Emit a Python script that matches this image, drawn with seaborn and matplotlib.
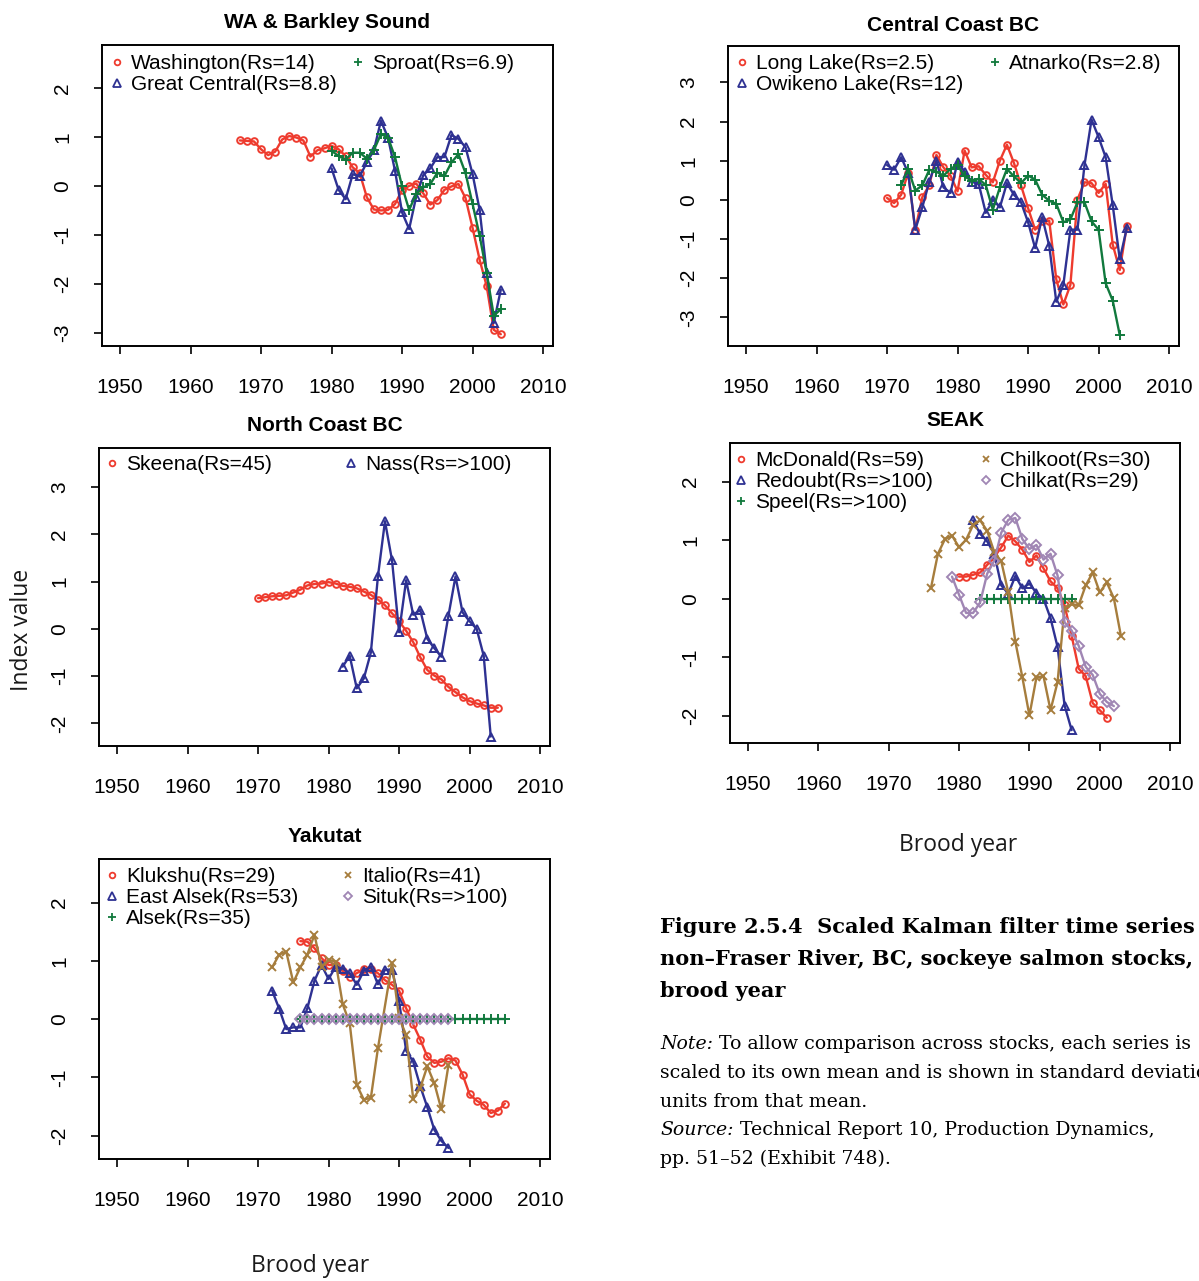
import matplotlib
matplotlib.use('Agg')
import matplotlib.pyplot as plt
from matplotlib.lines import Line2D
from matplotlib.legend import Legend
import pandas as pd
import seaborn as sns

# ========== DATI ==========
# WA & Barkley Sound
wash_years = list(range(1967, 2005))
wash_vals = [0.93, 0.92, 0.91, 0.75, 0.63, 0.70, 0.95, 1.02, 0.99, 0.93, 0.60, 0.73, 0.77,
             0.82, 0.75, 0.61, 0.38, 0.26, -0.23, -0.48, -0.50, -0.49, -0.37, -0.08, 0.00,
             0.05, -0.15, -0.38, -0.29, -0.08, -0.01, 0.04, -0.25, -0.86, -1.51, -2.05,
             -2.94, -3.03]
gc_years = list(range(1980, 2005))
gc_vals = [0.36, -0.08, -0.27, 0.24, 0.20, 0.48, 0.73, 1.33, 0.99, 0.31, -0.54, -0.88,
           -0.22, 0.22, 0.36, 0.59, 0.59, 1.04, 0.96, 0.79, 0.24, -0.49, -1.78, -2.80, -2.12]
sproat_years = list(range(1980, 2005))
sproat_vals = [0.72, 0.61, 0.54, 0.68, 0.68, 0.56, 0.73, 1.06, 0.99, 0.59, -0.01, -0.49,
               -0.16, -0.03, 0.04, 0.27, 0.20, 0.48, 0.65, 0.26, -0.37, -1.02, -1.78,
               -2.65, -2.52]

# Central Coast BC
long_years = list(range(1970, 2005))
long_vals = [0.05, -0.08, 0.13, 0.69, -0.76, 0.07, 0.38, 1.15, 0.83, 0.62, 0.22, 1.26,
             0.83, 0.86, 0.64, 0.45, 1.00, 1.41, 0.94, 0.37, -0.21, -0.76, -0.55, -0.53,
             -2.03, -2.67, -2.17, 0.01, 0.45, 0.43, 0.18, 0.41, -1.14, -1.79, -0.66]
owik_years = list(range(1970, 2005))
owik_vals = [0.89, 0.77, 1.09, 0.69, -0.76, -0.19, 0.47, 1.00, 0.32, 0.18, 0.98, 0.72,
             0.47, 0.41, -0.33, 0.01, -0.19, 0.43, 0.13, -0.06, -0.57, -1.23, -0.44, -1.17,
             -2.60, -2.17, -0.76, -0.76, 0.89, 2.05, 1.60, 1.09, -0.13, -1.52, -0.72]
atn_years = list(range(1972, 2004))
atn_vals = [0.37, 0.79, 0.24, 0.37, 0.77, 0.72, 0.62, 0.79, 0.89, 0.60, 0.49, 0.54, 0.38,
            -0.25, 0.32, 0.79, 0.60, 0.43, 0.62, 0.52, 0.13, -0.02, -0.10, -0.57, -0.50,
            -0.06, -0.06, -0.55, -0.76, -2.13, -2.57, -3.45]

# North Coast BC
skeena_years = list(range(1970, 2005))
skeena_vals = [0.65, 0.67, 0.69, 0.70, 0.71, 0.77, 0.83, 0.92, 0.95, 0.96, 0.99, 0.96,
               0.91, 0.89, 0.86, 0.79, 0.72, 0.62, 0.50, 0.33, 0.16, -0.04, -0.28, -0.60,
               -0.87, -0.99, -1.07, -1.23, -1.34, -1.45, -1.53, -1.58, -1.62, -1.67, -1.67]
nass_years = list(range(1982, 2004))
nass_vals = [-0.80, -0.57, -1.26, -1.05, -0.50, 1.11, 2.28, 1.45, -0.07, 1.03, 0.30, 0.40,
             -0.21, -0.41, -0.59, 0.28, 1.11, 0.35, 0.16, 0.00, -0.57, -2.28]

# SEAK
mcd_years = list(range(1980, 2002))
mcd_vals = [0.38, 0.38, 0.41, 0.45, 0.58, 0.71, 0.88, 1.08, 0.98, 0.84, 0.63, 0.74, 0.52,
            0.30, 0.18, -0.11, -0.63, -1.19, -1.32, -1.78, -1.90, -2.03]
redoubt_years = list(range(1982, 1997))
redoubt_vals = [1.34, 1.11, 0.98, 0.77, 0.23, 0.09, 0.39, 0.18, 0.26, 0.10, 0.00, -0.33,
                -0.82, -1.82, -2.24]
speel_years = list(range(1983, 1997))
speel_vals = [0.0] * len(speel_years)
chilkoot_years = list(range(1976, 2004))
chilkoot_vals = [0.18, 0.77, 1.02, 1.08, 0.88, 1.01, 1.26, 1.34, 1.16, 0.80, 0.64, 0.11,
                 -0.73, -1.34, -1.99, -1.34, -1.32, -1.90, -1.42, -0.15, -0.09, -0.11, 0.23,
                 0.45, 0.11, 0.28, 0.01, -0.63]
chilkat_years = list(range(1979, 2003))
chilkat_vals = [0.38, 0.07, -0.24, -0.24, -0.06, 0.43, 0.65, 1.13, 1.35, 1.38, 1.02, 0.85,
                0.92, 0.67, 0.77, 0.40, -0.40, -0.54, -0.80, -1.16, -1.30, -1.62, -1.76, -1.83]

# Yakutat
kluk_years = list(range(1976, 2006))
kluk_vals = [1.34, 1.33, 1.22, 1.05, 0.93, 0.93, 0.83, 0.73, 0.79, 0.86, 0.86, 0.79, 0.67,
             0.59, 0.49, 0.19, -0.09, -0.35, -0.64, -0.75, -0.73, -0.67, -0.71, -0.95,
             -1.29, -1.40, -1.47, -1.61, -1.57, -1.45]
ealsek_years = list(range(1972, 1998))
ealsek_vals = [0.49, 0.18, -0.17, -0.14, -0.14, 0.19, 0.66, 0.93, 0.69, 0.90, 0.87, 0.79,
               0.59, 0.83, 0.90, 0.60, 0.85, 0.85, 0.31, -0.54, -0.73, -1.15, -1.51, -1.90,
               -2.09, -2.21]
alsek_years = list(range(1976, 2006))
alsek_vals = [0.0] * len(alsek_years)
italio_years = list(range(1972, 1988)) + list(range(1989, 1998))
italio_vals = [0.89, 1.11, 1.16, 0.63, 0.89, 1.11, 1.45, 0.90, 1.02, 0.99, 0.26, -0.07,
               -1.13, -1.38, -1.35, -0.50, 0.96, 0.02, -0.27, -1.37, -1.18, -0.81, -1.10,
               -1.55, -0.79]
situk_years = list(range(1976, 1998))
situk_vals = [0.0] * len(situk_years)

# ========== STILE ==========
RED = '#EE3B2E'
BLUE = '#2E3192'
GREEN = '#11793D'
BROWN = '#A67D3D'
PURPLE = '#A086B4'

# simbolo R -> (marker matplotlib, dimensione)
SYM = {'circle': ('o', 4.8), 'tri': ('^', 6.0), 'plus': ('+', 7.5), 'x': ('x', 5.5), 'diam': ('D', 4.6)}

W, H = 1199, 1281
sns.set_style('white')
plt.rcParams['font.family'] = ['Liberation Sans', 'DejaVu Sans']
plt.rcParams['axes.unicode_minus'] = False
plt.rcParams['text.color'] = 'black'

fig = plt.figure(figsize=(W / 100, H / 100), dpi=100)


def add_ax(left, top, right, bottom):
    return fig.add_axes([left / W, 1 - bottom / H, (right - left) / W, (bottom - top) / H])


def draw(ax, years, vals, color, sym, z=2):
    m, ms = SYM[sym]
    d = pd.DataFrame({'year': years, 'value': vals})
    sns.lineplot(data=d, x='year', y='value', ax=ax, color=color, lw=1.7, marker=m, ms=ms,
                 mfc='none', mec=color, mew=1.4, legend=False, errorbar=None, zorder=z)


def setup(ax, title, ylim, yticks, tpad=12.5):
    ax.set_xlim(1947.45, 2011.4)
    ax.set_ylim(*ylim)
    ax.set_xticks(range(1950, 2011, 10))
    ax.set_yticks(yticks)
    ax.set_xlabel('')
    ax.set_ylabel('')
    ax.set_title(title, fontsize=15, fontweight='bold', pad=tpad, color='black')
    for s in ax.spines.values():
        s.set_visible(True)
        s.set_linewidth(1.4)
        s.set_color('black')
    ax.tick_params(direction='out', length=5.5, width=1.2, labelsize=15, pad=16,
                   bottom=True, left=True, colors='black')
    ax.tick_params(axis='x', pad=17.5)
    for lab in ax.get_yticklabels():
        lab.set_rotation(90)
        lab.set_va('center')


def legend_col(ax, entries, x_px, y_px):
    # una colonna della legenda R, posizionata in pixel dall'angolo in alto a sinistra
    pos = ax.get_position()
    w, h = pos.width * W, pos.height * H
    handles = [Line2D([], [], ls='none', marker=SYM[s][0], ms=SYM[s][1] * 0.85, mfc='none',
                      mec=c, mew=1.3, color=c) for _, c, s in entries]
    labels = [t for t, _, _ in entries]
    leg = Legend(ax, handles, labels, loc='upper left', bbox_to_anchor=(x_px / w, 1 - y_px / h),
                 frameon=False, borderpad=0, borderaxespad=0, handlelength=0.6,
                 handletextpad=0.35, labelspacing=0.1, fontsize=15, labelcolor='black')
    ax.add_artist(leg)


# ---- Panel 1: WA & Barkley Sound ----
ax1 = add_ax(102, 45, 553, 346)
draw(ax1, wash_years, wash_vals, RED, 'circle')
draw(ax1, gc_years, gc_vals, BLUE, 'tri')
draw(ax1, sproat_years, sproat_vals, GREEN, 'plus')
setup(ax1, 'WA & Barkley Sound', (-3.27, 2.88), range(-3, 3))
legend_col(ax1, [('Washington(Rs=14)', RED, 'circle'), ('Great Central(Rs=8.8)', BLUE, 'tri')], 9, 9)
legend_col(ax1, [('Sproat(Rs=6.9)', GREEN, 'plus')], 250, 9)

# ---- Panel 2: Central Coast BC ----
ax2 = add_ax(728, 46, 1179, 346)
draw(ax2, long_years, long_vals, RED, 'circle')
draw(ax2, owik_years, owik_vals, BLUE, 'tri')
draw(ax2, atn_years, atn_vals, GREEN, 'plus')
setup(ax2, 'Central Coast BC', (-3.73, 3.93), range(-3, 4), tpad=10.5)
legend_col(ax2, [('Long Lake(Rs=2.5)', RED, 'circle'), ('Owikeno Lake(Rs=12)', BLUE, 'tri')], 8, 8)
legend_col(ax2, [('Atnarko(Rs=2.8)', GREEN, 'plus')], 261, 8)

# ---- Panel 3: North Coast BC ----
ax3 = add_ax(99, 448, 550, 746)
draw(ax3, skeena_years, skeena_vals, RED, 'circle')
draw(ax3, nass_years, nass_vals, BLUE, 'tri')
setup(ax3, 'North Coast BC', (-2.48, 3.83), range(-2, 4))
legend_col(ax3, [('Skeena(Rs=45)', RED, 'circle')], 7, 7)
legend_col(ax3, [('Nass(Rs=>100)', BLUE, 'tri')], 246, 7)

# ---- Panel 4: SEAK ----
ax4 = add_ax(730, 443, 1180, 743)
draw(ax4, mcd_years, mcd_vals, RED, 'circle')
draw(ax4, redoubt_years, redoubt_vals, BLUE, 'tri')
draw(ax4, speel_years, speel_vals, GREEN, 'plus')
draw(ax4, chilkoot_years, chilkoot_vals, BROWN, 'x')
draw(ax4, chilkat_years, chilkat_vals, PURPLE, 'diam')
setup(ax4, 'SEAK', (-2.46, 2.66), range(-2, 3))
legend_col(ax4, [('McDonald(Rs=59)', RED, 'circle'), ('Redoubt(Rs=>100)', BLUE, 'tri'),
                 ('Speel(Rs=>100)', GREEN, 'plus')], 5, 8)
legend_col(ax4, [('Chilkoot(Rs=30)', BROWN, 'x'), ('Chilkat(Rs=29)', PURPLE, 'diam')], 250, 8)

# ---- Panel 5: Yakutat ----
ax5 = add_ax(99, 859, 550, 1159)
draw(ax5, kluk_years, kluk_vals, RED, 'circle')
draw(ax5, ealsek_years, ealsek_vals, BLUE, 'tri')
draw(ax5, alsek_years, alsek_vals, GREEN, 'plus')
draw(ax5, italio_years, italio_vals, BROWN, 'x')
draw(ax5, situk_years, situk_vals, PURPLE, 'diam')
setup(ax5, 'Yakutat', (-2.40, 2.75), range(-2, 3))
legend_col(ax5, [('Klukshu(Rs=29)', RED, 'circle'), ('East Alsek(Rs=53)', BLUE, 'tri'),
                 ('Alsek(Rs=35)', GREEN, 'plus')], 7, 8)
legend_col(ax5, [('Italio(Rs=41)', BROWN, 'x'), ('Situk(Rs=>100)', PURPLE, 'diam')], 243, 8)

# ---- etichette comuni ----
lab_font = dict(family='Open Sans', fontsize=16.5, color='#1a1a1a')
fig.text(22 / W, 1 - 630 / H, 'Index value', rotation=90, ha='center', va='center', **lab_font)
fig.text(958 / W, 1 - 845 / H, 'Brood year', ha='center', va='center', **lab_font)
fig.text(310 / W, 1 - 1266 / H, 'Brood year', ha='center', va='center', **lab_font)

# ---- didascalia (tagliata al bordo destro come nell'originale) ----
serif = 'DejaVu Serif'
cap_lines = ['Figure 2.5.4  Scaled Kalman filter time series for',
             'non\u2013Fraser River, BC, sockeye salmon stocks, by',
             'brood year']
for i, line in enumerate(cap_lines):
    fig.text(660 / W, 1 - (927 + 32 * i) / H, line, family=serif, fontweight='bold',
             fontsize=15.0, ha='left', va='center', color='black')

renderer = fig.canvas.get_renderer()
note_lines = [('Note:', ' To allow comparison across stocks, each series is'),
              ('', 'scaled to its own mean and is shown in standard deviation'),
              ('', 'units from that mean.'),
              ('Source:', ' Technical Report 10, Production Dynamics,'),
              ('', 'pp. 51\u201352 (Exhibit 748).')]
for i, (it, rest) in enumerate(note_lines):
    y = 1 - (1044 + 28.8 * i) / H
    x = 660 / W
    if it:
        t = fig.text(x, y, it, family=serif, style='italic', fontsize=13.6, ha='left',
                     va='center', color='black')
        x = t.get_window_extent(renderer).x1 / W
    fig.text(x, y, rest, family=serif, fontsize=13.6, ha='left', va='center', color='black')

fig.savefig('out.png', dpi=100)
